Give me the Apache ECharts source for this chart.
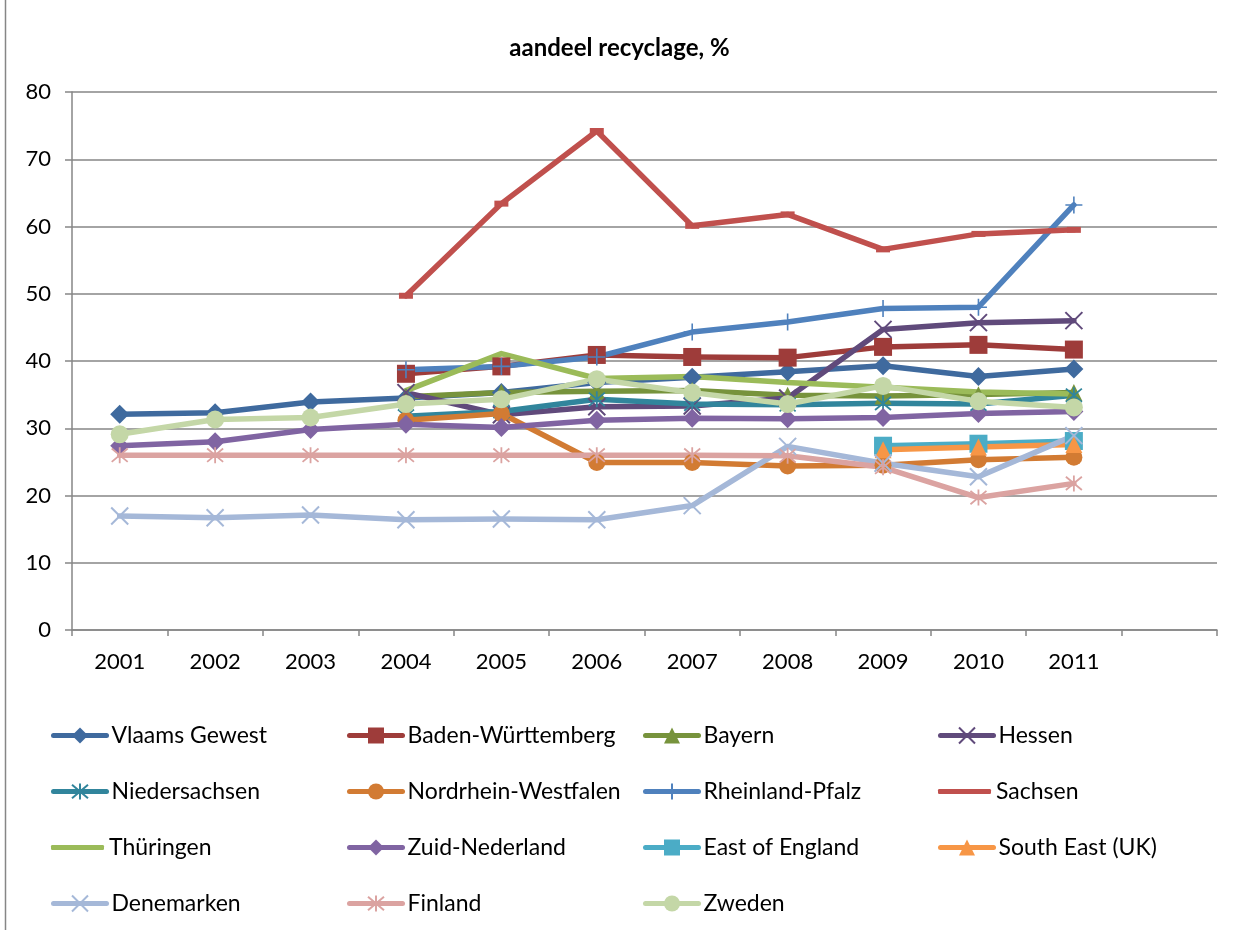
<!DOCTYPE html>
<html>
<head>
<meta charset="utf-8">
<script src="https://cdn.jsdelivr.net/npm/echarts@6/dist/echarts.min.js"></script>
<style>
html,body{margin:0;padding:0;background:#fff;}
#chart{width:1239px;height:930px;}
</style>
</head>
<body>
<div id="chart"></div>
<script>
const title = 'aandeel recyclage, %';
const categories = ['2001','2002','2003','2004','2005','2006','2007','2008','2009','2010','2011',''];
const yTicks = [0,10,20,30,40,50,60,70,80];

const seriesNames = ['Vlaams Gewest','Baden-Württemberg','Bayern','Hessen','Niedersachsen','Nordrhein-Westfalen','Rheinland-Pfalz','Sachsen','Thüringen','Zuid-Nederland','East of England','South East (UK)','Denemarken','Finland','Zweden'];

const vlaamsGewest      = [32.1,32.3,33.9,34.5,35.3,36.8,37.6,38.4,39.3,37.7,38.8];
const badenWurttemberg  = [null,null,null,38.1,39.2,40.9,40.6,40.5,42.1,42.4,41.7];
const bayern            = [null,null,null,34.7,35.3,35.5,35.6,34.9,34.8,35.0,35.3];
const hessen            = [null,null,null,35.3,32.0,33.2,33.3,34.5,44.7,45.7,46.0];
const niedersachsen     = [null,null,null,31.8,32.5,34.3,33.6,33.5,33.7,33.6,34.9];
const nordrheinWestfalen= [null,null,null,31.2,32.2,24.9,24.9,24.4,24.5,25.3,25.7];
const rheinlandPfalz    = [null,null,null,38.7,39.2,40.6,44.3,45.8,47.8,48.0,63.2];
const sachsen           = [null,null,null,49.7,63.4,74.2,60.1,61.8,56.6,58.9,59.5];
const thuringen         = [null,null,null,35.6,41.1,37.4,37.7,36.8,36.1,35.4,35.1];
const zuidNederland     = [27.4,28.0,29.8,30.6,30.1,31.2,31.5,31.4,31.6,32.2,32.5];
const eastOfEngland     = [null,null,null,null,null,null,null,null,27.4,27.7,28.1];
const southEastUK       = [null,null,null,null,null,null,null,null,26.8,27.2,27.6];
const denemarken        = [16.95,16.7,17.1,16.4,16.5,16.4,18.5,27.3,24.8,22.8,28.9];
const finland           = [26.0,26.0,26.0,26.0,26.0,26.0,26.0,25.9,24.2,19.7,21.8];
const zweden            = [29.1,31.3,31.6,33.6,34.3,37.3,35.3,33.6,36.3,34.0,33.1];

const seriesValues = [vlaamsGewest,badenWurttemberg,bayern,hessen,niedersachsen,nordrheinWestfalen,rheinlandPfalz,sachsen,thuringen,zuidNederland,eastOfEngland,southEastUK,denemarken,finland,zweden];

const colors = ['#3F6A9E','#9E3C3A','#77933C','#604A7B','#31859C','#D27B33','#4F81BD','#C0504D','#9BBB59','#8064A2','#4BACC6','#F79646','#A5B8D8','#DBA3A1','#C4D7A7'];

const X_PATH = 'path://M0,0L10,10M10,0L0,10';
const AST_PATH = 'path://M0,0L10,10M10,0L0,10M5,-1L5,11';
const PLUS_PATH = 'path://M5,0L5,10M0,5L10,5';
const markers = [
  {symbol:'diamond', size:19},
  {symbol:'rect', size:18},
  {symbol:'triangle', size:17},
  {symbol:X_PATH, size:17, stroke:2},
  {symbol:AST_PATH, size:16, stroke:1.8},
  {symbol:'circle', size:17},
  {symbol:PLUS_PATH, size:17, stroke:1.6},
  {symbol:'rect', size:[14,6], plainLegend:true},
  {symbol:'none', size:0, plainLegend:true},
  {symbol:'diamond', size:19},
  {symbol:'rect', size:18},
  {symbol:'triangle', size:17},
  {symbol:X_PATH, size:17, stroke:2},
  {symbol:AST_PATH, size:16, stroke:1.8},
  {symbol:'circle', size:18}
];

const FONT = 'Lato';
const legendCols = [51, 347, 643, 938];
const legendRows = [734, 790, 846, 902];

const series = seriesNames.map((name, i) => {
  const m = markers[i];
  const isStroke = !!m.stroke;
  return {
    name: name,
    type: 'line',
    data: seriesValues[i].map(v => v === null ? '-' : v),
    symbol: m.symbol,
    symbolSize: m.size,
    showSymbol: m.symbol !== 'none',
    connectNulls: false,
    lineStyle: {color: colors[i], width: 5.5, cap: 'round', join: 'round'},
    itemStyle: isStroke
      ? {color: colors[i], borderColor: colors[i], borderWidth: m.stroke}
      : {color: colors[i], borderWidth: 0},
    emphasis: {disabled: true},
    animation: false,
    z: 2
  };
});

const legends = seriesNames.map((name, i) => {
  const plain = !!markers[i].plainLegend;
  return {
    data: plain ? [{name: name, icon: 'roundRect'}] : [name],
    left: legendCols[i % 4],
    top: legendRows[Math.floor(i / 4)] - 10,
    padding: 0,
    itemWidth: 53,
    itemHeight: plain ? 5 : 20,
    itemGap: 0,
    selectedMode: false,
    lineStyle: {width: 5, cap: 'round'},
    textStyle: {fontFamily: FONT, fontSize: 23, color: '#000', padding: [0,0,0,0], lineHeight: 20}
  };
});

const chart = echarts.init(document.getElementById('chart'), null, {renderer: 'canvas'});
chart.setOption({
  backgroundColor: '#fff',
  animation: false,
  title: {
    text: title,
    left: 'center',
    top: 31,
    textStyle: {fontFamily: FONT, fontWeight: 'bold', fontSize: 24, color: '#000'}
  },
  graphic: [{
    type: 'line',
    shape: {x1: 5.5, y1: 0, x2: 5.5, y2: 930},
    style: {stroke: '#868686', lineWidth: 1.5}
  }],
  legend: legends,
  grid: {left: 72, right: 22, top: 92, bottom: 300, containLabel: false},
  xAxis: {
    type: 'category',
    data: categories,
    boundaryGap: true,
    axisLine: {show: true, lineStyle: {color: '#868686', width: 1.5}},
    axisTick: {show: true, interval: 0, alignWithLabel: false, length: 6, inside: false, lineStyle: {color: '#868686', width: 1.5}},
    axisLabel: {interval: 0, fontFamily: FONT, fontSize: 22, color: '#000', margin: 21},
    splitLine: {show: false}
  },
  yAxis: {
    type: 'value',
    min: yTicks[0],
    max: yTicks[yTicks.length - 1],
    interval: yTicks[1] - yTicks[0],
    axisLine: {show: true, lineStyle: {color: '#868686', width: 1.5}},
    axisTick: {show: true, length: 7, lineStyle: {color: '#868686', width: 1.5}},
    axisLabel: {fontFamily: FONT, fontSize: 22, color: '#000', margin: 21},
    splitLine: {show: true, lineStyle: {color: '#868686', width: 1.5}}
  },
  series: series
});
</script>
</body>
</html>
